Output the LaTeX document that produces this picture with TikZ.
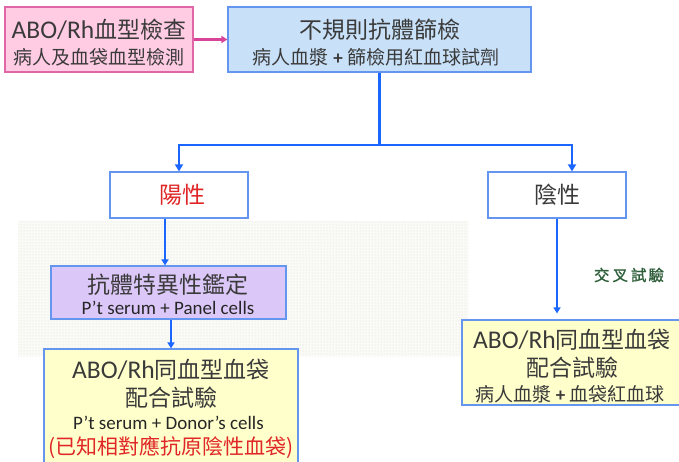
\documentclass[tikz,border=0pt]{standalone}
\usepackage{fontspec}
\setmainfont{Carlito}
\newfontfamily\cjk{Noto Sans CJK TC}
\newfontfamily\cjkb[FakeBold=1.2]{Noto Sans CJK TC}
\usetikzlibrary{arrows.meta,patterns,calc}
\definecolor{pinkfill}{HTML}{FFCCE3}
\definecolor{pinkborder}{HTML}{E066A8}
\definecolor{pinkline}{HTML}{D9449B}
\definecolor{topfill}{HTML}{C8E1F9}
\definecolor{boxblue}{HTML}{6496F0}
\definecolor{lineblue}{HTML}{1A66FF}
\definecolor{purfill}{HTML}{DCC8F8}
\definecolor{yelfill}{HTML}{FFFFCC}
\definecolor{txtgray}{HTML}{3A3A3A}
\definecolor{redtxt}{HTML}{E02626}
\definecolor{greentxt}{HTML}{2E5E3A}
\definecolor{bgfill}{HTML}{FAFAF6}
\definecolor{dotgray}{HTML}{DEDED6}
\newcommand{\abolat}{{\fontsize{25.5}{27}\selectfont ABO/Rh}}
\begin{document}
\begin{tikzpicture}[x=1pt,y=-1pt,
  box/.style={draw=boxblue,line width=1.2pt,inner sep=0pt},
  ttl/.style={inner sep=0pt,text=txtgray,font=\fontsize{23}{27}\selectfont},
  subt/.style={inner sep=0pt,text=txtgray,font=\fontsize{19}{23}\selectfont},
  lat/.style={inner sep=0pt,text=black!85,font=\fontsize{19}{22}\selectfont},
  conn/.style={draw=lineblue,line width=2.6pt,-{Triangle[length=7pt,width=8pt]}},
  connb/.style={draw=lineblue,line width=2.2pt,-{Triangle[length=6pt,width=7pt]}},
]
\useasboundingbox (0,0) rectangle (679,462);
% dotted background
\fill[bgfill] (18,221) rectangle (468,356);
\fill[pattern=dots,pattern color=dotgray] (18,221) rectangle (468,356);

% boxes
\node[box,draw=pinkborder,fill=pinkfill,minimum width=188pt,minimum height=65pt] (abo) at (99,39.5) {};
\node[box,fill=topfill,minimum width=303pt,minimum height=65pt] (top) at (379.5,39.5) {};
\node[box,fill=white,minimum width=138pt,minimum height=46pt] (pos) at (179,195) {};
\node[box,fill=white,minimum width=138pt,minimum height=46pt] (neg) at (557,195) {};
\node[box,fill=purfill,minimum width=235pt,minimum height=53pt] (pur) at (168.5,292.5) {};
\node[box,fill=yelfill,minimum width=254pt,minimum height=124pt] (yl) at (171,411) {};
\node[box,fill=yelfill,minimum width=219pt,minimum height=85pt] (yr) at (571.5,362.5) {};

% texts
\node[ttl] (aboT) at (99,30) {\abolat{\cjk 血型檢查}};
\node[subt] (aboS) at (99,57) {\cjk 病人及血袋血型檢測};
\node[ttl] (topT) at (379.5,30) {\cjk 不規則抗體篩檢};
\node[subt] (topS) at (376,57) {{\cjk 病人血漿} \textbf{+} {\cjk 篩檢用紅血球試劑}};
\node[ttl,text=redtxt] (posT) at (182,195) {\cjk 陽性};
\node[ttl] (negT) at (557,195) {\cjk 陰性};
\node[ttl] (purT) at (167.5,285) {\cjk 抗體特異性鑑定};
\node[lat] (purS) at (168,308) {P’t serum + Panel cells};
\node[ttl] (ylT1) at (171,370) {\abolat{\cjk 同血型血袋}};
\node[ttl] (ylT2) at (171,398) {\cjk 配合試驗};
\node[lat] (ylS) at (168.5,423) {P’t serum + Donor’s cells};
\node[inner sep=0pt,text=redtxt,font=\fontsize{21}{25}\selectfont] (ylR) at (171,448) {\cjk (已知相對應抗原陰性血袋)};
\node[ttl] (yrT1) at (572,340) {\abolat{\cjk 同血型血袋}};
\node[ttl] (yrT2) at (572,368) {\cjk 配合試驗};
\node[subt] (yrS) at (570,394) {{\cjk 病人血漿} \textbf{+} {\cjk 血袋紅血球}};
\node[inner sep=0pt,text=greentxt,font=\fontsize{15.5}{17}\selectfont] (cross) at (629,275) {\cjkb 交\hspace{3pt}叉\hspace{3pt}試\hspace{2pt}驗};

% connectors
\draw[draw=pinkline,line width=2.2pt,-{Triangle[length=6pt,width=7pt]}] (abo.east) -- (top.west);
\coordinate (split) at (379.5,145);
\draw[draw=lineblue,line width=2.6pt] (top.south) -- (split);
\draw[conn] (split) -| (pos.north);
\draw[conn] (split) -| ([xshift=15pt]neg.north);
\draw[connb] ([xshift=-14pt]pos.south) -- ([xshift=-14pt]pos.south |- pur.north);
\draw[connb] (yl.north |- pur.south) -- (yl.north);
\draw[connb] (neg.south) -- ($(neg.south |- yr.north)+(0,-6)$);
\end{tikzpicture}
\end{document}
